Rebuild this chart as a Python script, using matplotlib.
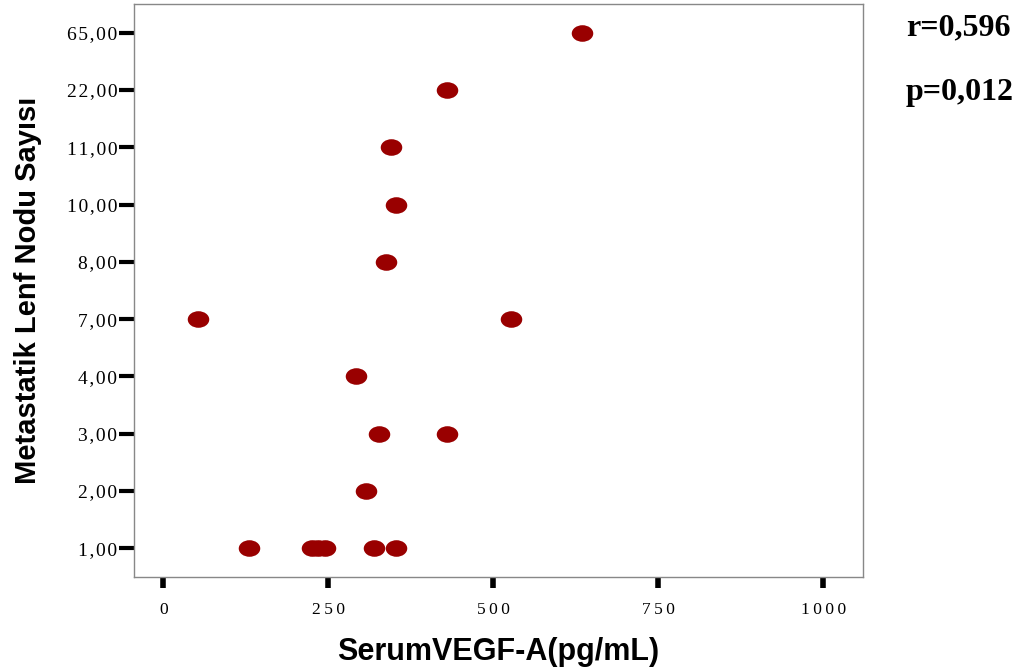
import numpy as np
import matplotlib
matplotlib.use('Agg')
import matplotlib.pyplot as plt
from matplotlib.path import Path
from matplotlib.transforms import Affine2D

# y categories (number of metastatic lymph nodes), evenly spaced like SPSS
node_levels = ['1,00', '2,00', '3,00', '4,00', '7,00', '8,00', '10,00', '11,00', '22,00', '65,00']

# serum VEGF-A (pg/mL) for each patient, grouped by node level
vegf = [130, 225, 235, 245, 320, 353,   # 1
        307,                            # 2
        327, 430,                       # 3
        292,                            # 4
        53, 527,                        # 7
        338,                            # 8
        353,                            # 10
        345,                            # 11
        430,                            # 22
        635]                            # 65
node = ['1,00'] * 6 + ['2,00'] + ['3,00'] * 2 + ['4,00'] + ['7,00'] * 2 + \
       ['8,00', '10,00', '11,00', '22,00', '65,00']

x_ticks = [0, 250, 500, 750, 1000]
r_text = 'r=0,596'
p_text = 'p=0,012'


def spaced(s, sep='\u200a'):
    return sep.join(s)


# flat ellipse marker like the SPSS output
circle = Path.unit_circle()
ellipse = Path(Affine2D().scale(1.0, 0.77).transform(circle.vertices), circle.codes)

fig = plt.figure(figsize=(10.32, 6.72), dpi=100)
ax = fig.add_axes([0.130, 0.1414, 0.706, 0.8526])

y_pos = [node_levels.index(n) for n in node]
ax.scatter(vegf, y_pos, marker=ellipse, s=15.5 ** 2, color='#990000',
           linewidths=0, zorder=3)
ax.set_xlim(-44, 1060)
ax.set_ylim(-0.5, 9.5)

ax.set_xticks(x_ticks)
ax.set_xticklabels([spaced(str(t), '\u2009') for t in x_ticks],
                   fontfamily='Liberation Serif', fontsize=12.5)
ax.set_yticks(range(len(node_levels)))
ax.set_yticklabels([spaced(s) for s in node_levels],
                   fontfamily='Liberation Serif', fontsize=14)

ax.tick_params(axis='x', length=8, width=4, pad=10, color='black')
ax.tick_params(axis='y', length=11, width=3, pad=1, color='black')

for sp in ax.spines.values():
    sp.set_color('#888888')
    sp.set_linewidth(1)

ax.set_xlabel('SerumVEGF-A(pg/mL)', fontfamily='Liberation Sans',
              fontweight='bold', fontsize=22, labelpad=14)
ax.set_ylabel('Metastatik Lenf Nodu Sayısı', fontfamily='Liberation Sans',
              fontweight='bold', fontsize=21, labelpad=18)

fig.text(0.878, 0.948, r_text, fontfamily='Liberation Serif',
         fontweight='bold', fontsize=23, va='baseline')
fig.text(0.878, 0.851, p_text, fontfamily='Liberation Serif',
         fontweight='bold', fontsize=23, va='baseline')

fig.savefig('out.png', dpi=100)
